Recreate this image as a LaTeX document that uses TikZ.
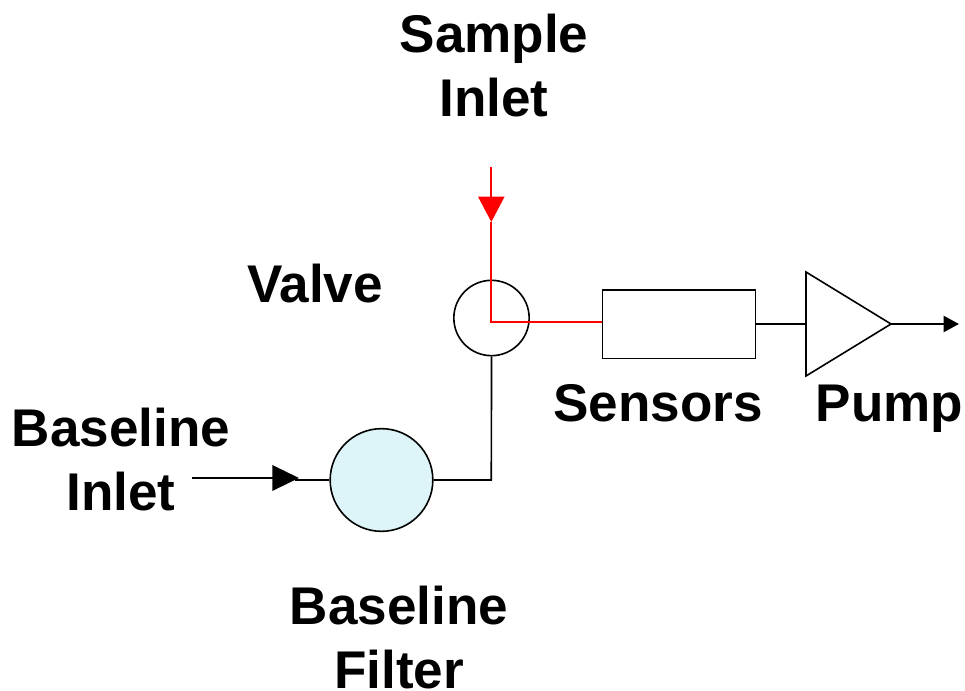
\documentclass[tikz,border=0pt]{standalone}
\usepackage{fontspec}
\setmainfont{Liberation Sans}
\usetikzlibrary{arrows.meta}
\definecolor{filterblue}{HTML}{DDF4F9}
\tikzset{
  x=0.75pt,y=-0.75pt,
  lbl/.style={font=\fontsize{39.8}{48}\selectfont\bfseries,align=center,inner sep=0pt},
  part/.style={draw,inner sep=0pt,line width=1.2pt},
  flow/.style={line width=1.25pt},
  feed/.style={line width=1.7pt},
}
\begin{document}
\begin{tikzpicture}
  \useasboundingbox (0,0) rectangle (965,691);
  % labels
  \node[lbl] (sampletxt) at (494,66) {Sample\\Inlet};
  \node[lbl] (valvetxt) at (315,284) {Valve};
  \node[lbl] (baseinlet) at (121,460) {Baseline\\Inlet};
  \node[lbl] (basefilter) at (399,637.5) {Baseline\\Filter};
  \node[lbl,anchor=base] (sensorstxt) at (658,422) {Sensors};
  \node[lbl,anchor=base] (pumptxt) at (889.5,422) {Pump};
  % parts
  \node[part,circle,minimum size=56.5pt] (valve) at (491.5,318) {};
  \node[part,circle,fill=filterblue,minimum size=77pt] (filter) at (381.5,480) {};
  \node[part,rectangle,minimum width=115pt,minimum height=51.5pt] (sensors) at (679,324.3) {};
  \coordinate (pumpa) at (806,272);
  \coordinate (pumpb) at (806,376);
  \coordinate (pumpc) at (891,324);
  \draw[line width=1.2pt] (pumpa) -- (pumpc) -- (pumpb) -- cycle;
  \coordinate (samplestart) at (491.3,167);
  \coordinate (sampletip) at (491.3,222);
  \coordinate (valvemid) at (491.3,322);
  \coordinate (redjoin) at (550,322);
  \coordinate (basestart) at (192,478);
  \coordinate (basetip) at (299,478);
  \coordinate (filterin) at (295,480);
  \coordinate (corner) at (491.3,480);
  \coordinate (pumpend) at (959,324);
  % pipes
  \draw[flow] (filter.east) -- (corner) -- (valve.south);
  \draw[flow] (sensors.east) -- (sensors.east -| pumpa);
  \draw[flow] (filterin) -- (filter.west);
  \draw[feed,-{Triangle[length=20pt,width=19pt]}] (basestart) -- (basetip);
  \draw[feed,-{Triangle[length=11.5pt,width=12pt]}] (pumpc) -- (pumpend);
  \draw[feed,red,-{Triangle[length=19pt,width=19.5pt]}] (samplestart) -- (sampletip);
  \draw[flow,red] (sampletip) -- (valvemid) -- (redjoin);
  \draw[feed,red] (redjoin) -- (redjoin -| sensors.west);
\end{tikzpicture}
\end{document}
